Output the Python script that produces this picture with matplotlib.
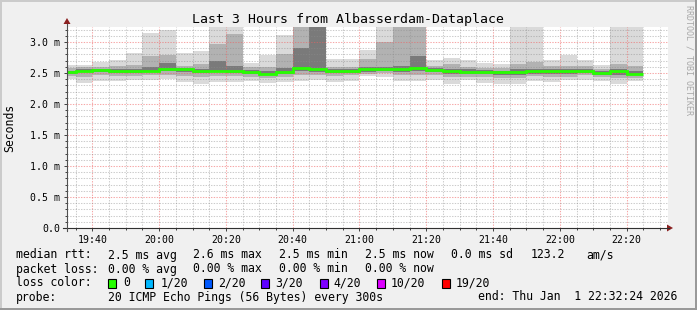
import numpy as np
import matplotlib
matplotlib.use('Agg')
import matplotlib.pyplot as plt
from matplotlib.patches import Rectangle, Polygon
from matplotlib.lines import Line2D

plt.rcParams['font.family'] = ['DejaVu Sans Mono']

#Time axis (minutes after midnight), 5 minute smoke bars from 19:30
bar_start  = np.arange(19*60 + 30, 22*60 + 25, 5)
t_begin    = 19*60 + 32.4
t_end      = 22*60 + 32.4
tick_pos   = [1180, 1200, 1220, 1240, 1260, 1280, 1300, 1320, 1340]
tick_lbl   = ['19:40', '20:00', '20:20', '20:40', '21:00', '21:20', '21:40', '22:00', '22:20']
ytick_pos  = [0.0, 0.5, 1.0, 1.5, 2.0, 2.5, 3.0]
ytick_lbl  = ['0.0', '0.5 m', '1.0 m', '1.5 m', '2.0 m', '2.5 m', '3.0 m']

#Smoke (ms): outer, middle and inner bands plus median
top    = [2.63, 2.63, 2.68, 2.71, 2.82, 3.15, 3.20, 2.83, 2.86, 3.40,
          3.40, 2.66, 2.79, 3.11, 3.40, 3.40, 2.72, 2.73, 2.87, 3.40,
          3.40, 3.40, 2.71, 2.74, 2.71, 2.66, 2.65, 3.40, 3.40, 2.71,
          2.79, 2.71, 2.63, 3.40, 3.40]
hi_mid = [2.58, 2.59, 2.60, 2.62, 2.63, 2.78, 2.79, 2.62, 2.64, 2.97,
          3.13, 2.59, 2.60, 2.81, 3.40, 3.40, 2.60, 2.60, 2.72, 3.00,
          3.40, 3.40, 2.62, 2.64, 2.60, 2.58, 2.58, 2.64, 2.67, 2.62,
          2.62, 2.61, 2.57, 2.64, 2.62]
hi_in  = [2.54, 2.56, 2.57, 2.56, 2.57, 2.60, 2.66, 2.58, 2.56, 2.70,
          2.62, 2.55, 2.53, 2.58, 2.90, 3.40, 2.56, 2.57, 2.60, 2.60,
          2.62, 2.78, 2.58, 2.57, 2.56, 2.55, 2.54, 2.56, 2.57, 2.56,
          2.57, 2.56, 2.53, 2.57, 2.53]
median = [2.51, 2.54, 2.55, 2.53, 2.53, 2.54, 2.57, 2.56, 2.53, 2.54,
          2.54, 2.52, 2.49, 2.52, 2.58, 2.56, 2.53, 2.54, 2.56, 2.57,
          2.57, 2.58, 2.55, 2.54, 2.52, 2.52, 2.51, 2.51, 2.53, 2.53,
          2.53, 2.54, 2.50, 2.53, 2.48]
lo_in  = [2.49, 2.51, 2.52, 2.50, 2.50, 2.51, 2.53, 2.52, 2.50, 2.51,
          2.50, 2.48, 2.46, 2.49, 2.53, 2.52, 2.50, 2.50, 2.52, 2.53,
          2.52, 2.53, 2.51, 2.49, 2.48, 2.48, 2.47, 2.47, 2.49, 2.48,
          2.49, 2.50, 2.47, 2.47, 2.46]
lo_mid = [2.45, 2.44, 2.46, 2.45, 2.45, 2.46, 2.46, 2.45, 2.43, 2.45,
          2.45, 2.44, 2.42, 2.44, 2.47, 2.46, 2.45, 2.46, 2.49, 2.50,
          2.46, 2.47, 2.46, 2.43, 2.44, 2.43, 2.42, 2.42, 2.45, 2.43,
          2.44, 2.46, 2.43, 2.42, 2.42]
bottom = [2.40, 2.34, 2.37, 2.37, 2.38, 2.39, 2.40, 2.35, 2.33, 2.35,
          2.36, 2.37, 2.34, 2.35, 2.37, 2.38, 2.36, 2.37, 2.45, 2.44,
          2.37, 2.37, 2.38, 2.33, 2.38, 2.34, 2.33, 2.32, 2.37, 2.35,
          2.38, 2.39, 2.37, 2.33, 2.37]

#Legend
loss_labels = ['0', '1/20', '2/20', '3/20', '4/20', '10/20', '19/20']
loss_colors = ['#26ff00', '#00b8ff', '#0059ff', '#5e00ff', '#7e00ff', '#dd00ff', '#ff0000']
rtt_items   = ['2.5 ms avg', '2.6 ms max', '2.5 ms min', '2.5 ms now', '0.0 ms sd', '123.2', 'am/s']
loss_items  = ['0.00 % avg', '0.00 % max', '0.00 % min', '0.00 % now']

W, H = 697, 310
fig = plt.figure(figsize=(W/100, H/100), dpi=100, facecolor='#f0f0f0')

#Plot area
ax = fig.add_axes([67/W, (H-228)/H, (668-67)/W, (228-27)/H], facecolor='white')
layers = [(bottom, top, '#dadada'), (lo_mid, hi_mid, '#b2b2b2'), (lo_in, hi_in, '#7a7a7a')]
for lo, hi, col in layers:
    ax.bar(bar_start, np.array(hi) - np.array(lo), bottom=lo, width=5, align='edge',
           color=col, linewidth=0, zorder=1)
edges = np.append(bar_start, bar_start[-1] + 5)
ax.stairs(median, edges, baseline=None, color='#26ff00', lw=2.0, zorder=3)

ax.set_xlim(t_begin, t_end)
ax.set_ylim(0, 201/62)
ax.set_xticks(tick_pos, labels=tick_lbl)
ax.set_xticks(np.arange(1175, 1355, 5), minor=True)
ax.set_yticks(ytick_pos, labels=ytick_lbl)
ax.set_yticks(np.arange(0, 3.25, 0.1), minor=True)
ax.set_axisbelow(False)
ax.grid(which='minor', color='#8c8c8c', alpha=0.45, lw=0.75, linestyle=(0, (1.3, 1.3)))
ax.grid(which='major', color='#f06060', alpha=0.55, lw=0.75, linestyle=(0, (1.3, 1.3)))
for s in ax.spines.values():
    s.set_visible(False)
ax.tick_params(which='both', labelsize=7.1, color='#404040', direction='out')
ax.tick_params(which='major', length=2.2, pad=2.6, width=0.7)
ax.tick_params(which='minor', length=1.4, width=0.7)

#Overlay in pixel coordinates for frame, axes, arrows and text
ov = fig.add_axes([0, 0, 1, 1], zorder=5)
ov.set_xlim(0, W)
ov.set_ylim(H, 0)
ov.axis('off')
ov.patch.set_alpha(0)

ov.add_patch(Rectangle((0, 0), W, 2, color='#cbcbcb', lw=0))
ov.add_patch(Rectangle((0, 0), 2, H, color='#cbcbcb', lw=0))
ov.add_patch(Rectangle((W-2, 0), 2, H, color='#999999', lw=0))
ov.add_patch(Rectangle((0, H-2), W, 2, color='#999999', lw=0))

ov.add_line(Line2D([63, 669], [228, 228], color='#303030', lw=0.8))
ov.add_line(Line2D([67, 67], [231, 24], color='#505050', lw=0.8))
ov.add_patch(Polygon([[673, 228], [667, 224.5], [667, 231.5]], closed=True, color='#8b2020', lw=0))
ov.add_patch(Polygon([[67, 18], [63.5, 24], [70.5, 24]], closed=True, color='#8b2020', lw=0))

ov.text(348.5, 19, 'Last 3 Hours from Albasserdam-Dataplace', ha='center', va='center', fontsize=9.5)
ov.text(10, 128, 'Seconds', rotation=90, ha='center', va='center', fontsize=8.3)
ov.text(689, 5, 'RRDTOOL / TOBI OETIKER', rotation=270, ha='center', va='top',
        fontsize=6.0, color='#a8a8a8')

fs = 8.3
ov.text(16, 255, 'median rtt:', va='center', fontsize=fs)
for x, s in zip([107.6, 192.9, 279.1, 365.3, 451.1, 530.2, 586.7], rtt_items):
    ov.text(x, 255, s, va='center', fontsize=fs)
ov.text(16, 269, 'packet loss:', va='center', fontsize=fs)
for x, s in zip([107.6, 192.9, 279.1, 365.3], loss_items):
    ov.text(x, 269, s, va='center', fontsize=fs)
ov.text(16, 283, 'loss color:', va='center', fontsize=fs)
for bx, lx, lab, col in zip([108, 145.3, 203.6, 261.3, 319.6, 377.3, 442.2],
                            [123.6, 160.4, 217.8, 275.6, 333.3, 391.1, 455.6],
                            loss_labels, loss_colors):
    ov.add_patch(Rectangle((bx, 278.5), 8, 9, facecolor=col, edgecolor='black', lw=0.8))
    ov.text(lx, 283, lab, va='center', fontsize=fs)
ov.text(16, 297, 'probe:', va='center', fontsize=fs)
ov.text(107.6, 297, '20 ICMP Echo Pings (56 Bytes) every 300s', va='center', fontsize=fs)
ov.text(477.8, 297, 'end: Thu Jan  1 22:32:24 2026', va='center', fontsize=fs)

fig.savefig('out.png', dpi=100, facecolor=fig.get_facecolor())
